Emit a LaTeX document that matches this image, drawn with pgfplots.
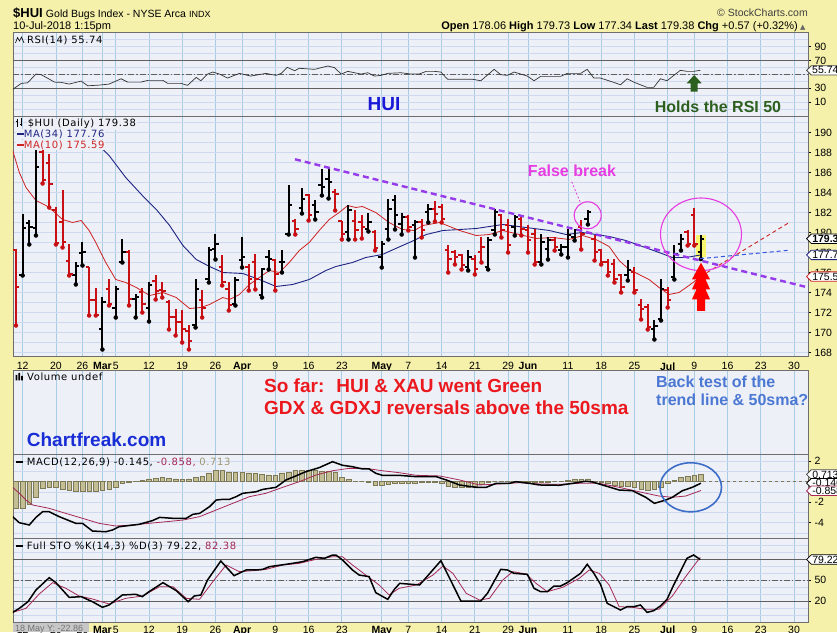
\documentclass[border=0pt]{standalone}
\usepackage{fontspec}
\setmainfont{DejaVu Sans}
\newfontfamily\arial{Liberation Sans}
\newfontfamily\lbl[LetterSpace=6]{DejaVu Sans}
\usepackage{pgfplots}
\usepackage{pgfplotstable}
\pgfplotsset{compat=1.18}
\usetikzlibrary{shapes.symbols}

\definecolor{ybg}{RGB}{245,241,170}
\definecolor{pbg}{RGB}{238,240,248}
\definecolor{vgrid}{RGB}{168,204,228}
\definecolor{hgrid}{RGB}{206,216,238}
\definecolor{framec}{RGB}{110,110,110}
\definecolor{barred}{RGB}{200,15,20}
\definecolor{ma34}{RGB}{30,35,130}
\definecolor{ma10}{RGB}{205,35,35}
\definecolor{trend}{RGB}{150,60,235}
\definecolor{mag}{RGB}{230,60,225}
\definecolor{huiblue}{RGB}{25,25,215}
\definecolor{dgreen}{RGB}{45,95,30}
\definecolor{sored}{RGB}{235,25,30}
\definecolor{btblue}{RGB}{75,120,210}
\definecolor{cfblue}{RGB}{25,45,215}
\definecolor{khaki}{RGB}{196,190,148}
\definecolor{khakid}{RGB}{125,120,85}
\definecolor{sig}{RGB}{165,40,85}
\definecolor{circblue}{RGB}{60,110,200}
\definecolor{hl}{RGB}{250,245,110}
\definecolor{refl}{RGB}{95,95,95}

\newcommand{\fs}[1]{\fontsize{#1}{#1}\selectfont}

\pgfdeclareplotmark{otick}{\pgfpathmoveto{\pgfqpoint{-3.4pt}{0pt}}\pgfpathlineto{\pgfqpoint{0pt}{0pt}}\pgfusepathqstroke}
\pgfdeclareplotmark{ctick}{\pgfpathmoveto{\pgfqpoint{0pt}{0pt}}\pgfpathlineto{\pgfqpoint{3.4pt}{0pt}}\pgfusepathqstroke}

% daily bars: index (0 = 12 Feb 2018, trading days), open, high, low, close
\pgfplotstableread{
i O H L C
0 175.7 181.8 175.7 180.4
1 180.9 181.2 178.8 180.5
2 180.4 188.2 179.7 186.5
8 175.7 177.0 174.8 176.6
9 177.9 179.0 176.7 178.0
12 170.3 173.5 168.3 173.0
14 172.4 174.6 171.5 174.3
15 177.0 179.3 177.0 178.0
17 173.3 173.8 171.5 173.5
19 172.4 175.0 171.1 174.7
26 170.7 175.3 170.5 174.3
28 175.3 178.5 175.0 178.2
29 178.3 179.8 177.3 178.8
32 172.8 175.5 172.7 175.2
33 177.2 179.5 176.5 177.5
36 173.7 176.4 173.5 176.3
37 177.5 178.2 176.3 177.3
39 177.0 178.2 176.0 177.0
40 179.8 184.7 179.8 182.7
42 182.4 184.4 181.9 183.3
44 182.7 183.2 181.3 182.0
45 184.7 186.3 183.7 184.5
46 185.3 186.5 183.4 185.0
49 180.0 182.7 179.3 182.2
52 180.3 181.9 180.1 181.0
54 177.5 179.1 176.5 178.8
55 180.3 183.3 179.3 182.3
56 183.2 183.7 180.3 181.7
57 180.8 181.9 179.8 181.5
59 180.7 181.2 177.5 181.0
61 182.0 182.8 181.0 182.3
67 176.5 178.2 176.2 177.5
70 176.5 179.5 176.3 179.2
71 180.2 182.3 179.8 182.0
74 180.5 181.7 179.7 181.5
78 177.0 179.8 176.8 179.0
79 178.3 179.5 177.3 179.2
81 178.2 178.8 177.8 178.5
82 178.5 180.3 177.5 179.7
83 179.5 180.3 179.2 180.2
85 181.3 182.2 180.8 182.0
91 175.7 177.2 175.2 176.2
95 170.3 171.2 169.3 170.6
96 171.3 175.3 171.2 174.3
98 175.5 178.7 175.3 177.8
99 178.8 179.8 178.2 179.3
102 178.06 179.73 177.34 179.38
}\upbars

\pgfplotstableread{
i O H L C
-1 178.2 178.3 170.7 174.5
3 188.0 188.3 184.9 185.2
4 186.9 187.8 182.5 184.8
5 182.2 182.5 178.8 178.9
6 181.0 184.2 178.5 179.0
7 177.1 178.8 175.7 175.8
10 176.5 176.5 171.7 173.2
11 173.2 174.4 171.7 171.7
13 174.3 175.3 172.7 172.8
16 178.0 178.2 172.7 173.3
18 174.0 174.4 172.0 172.8
20 175.1 175.7 173.3 174.1
21 174.2 175.0 173.5 174.1
22 173.0 173.2 170.3 171.5
23 171.5 172.3 169.7 171.0
24 171.0 172.2 169.0 170.3
25 170.1 170.7 168.3 169.1
27 173.2 174.2 171.5 172.4
30 176.5 177.7 174.7 175.0
31 174.3 175.0 172.2 172.7
34 176.5 176.8 174.2 175.3
35 177.0 177.8 174.3 175.3
38 177.2 177.3 174.2 175.8
41 181.1 181.3 179.8 180.3
43 183.7 183.8 181.2 181.7
47 184.0 184.3 182.2 183.8
48 181.1 181.1 179.3 179.8
50 181.1 182.2 179.3 180.2
51 181.0 181.7 179.4 180.5
53 180.0 180.2 178.2 178.4
58 181.5 181.7 180.2 180.5
60 181.0 181.3 179.5 180.2
62 182.3 183.1 181.1 181.8
63 182.5 182.8 181.0 181.3
64 178.2 178.7 176.0 177.3
65 178.0 178.2 176.8 177.5
66 177.7 177.8 176.3 176.7
68 177.3 177.7 175.8 176.3
69 178.0 179.5 177.0 178.5
72 181.7 181.8 179.5 180.2
73 180.7 181.3 178.0 178.7
75 181.3 181.7 179.7 180.3
76 180.2 180.7 178.0 179.2
77 179.8 180.3 176.8 177.0
80 179.2 179.5 178.2 178.5
84 180.5 181.2 178.3 179.8
86 179.3 179.7 177.2 178.0
87 178.2 178.3 176.8 177.0
88 177.0 177.3 175.7 176.0
89 176.8 177.3 175.0 175.3
90 175.7 175.8 174.0 174.5
92 176.0 176.5 174.0 174.2
93 172.7 173.3 171.3 172.3
94 172.5 172.8 170.3 170.5
97 174.2 174.5 172.5 173.2
100 180.0 180.2 178.7 178.8
101 181.7 182.4 178.7 178.81
}\dnbars

\pgfplotstableread{
i h
-1 -2.6
0 -2.6
1 -2.2
2 -1.5
3 -0.65
4 -0.55
5 -0.55
6 -0.75
7 -0.88
8 -0.98
9 -0.98
10 -0.98
11 -0.98
12 -0.88
13 -0.75
14 -0.5
15 -0.15
16 -0.1
17 0.02
18 0.15
19 0.28
20 0.33
21 0.4
22 0.33
23 0.28
24 0.2
25 0.28
26 0.45
27 0.5
28 0.85
29 1.1
30 1.1
31 0.95
32 0.9
33 0.9
34 0.85
35 0.78
36 0.7
37 0.65
38 0.65
39 0.85
40 0.95
41 1.1
42 1.1
43 1.1
44 1.1
45 1.0
46 1.0
47 0.9
48 0.4
49 0.2
50 0.05
51 0.0
52 -0.02
53 -0.3
54 -0.3
55 -0.25
56 -0.2
57 -0.2
58 -0.2
59 -0.2
60 -0.1
61 -0.05
62 -0.05
63 -0.2
64 -0.45
65 -0.5
66 -0.5
67 -0.5
68 -0.45
69 -0.25
70 -0.05
71 0.0
72 0.05
73 0.0
74 0.05
75 0.0
76 -0.05
77 -0.05
78 -0.05
79 -0.05
80 0.0
81 0.05
82 0.12
83 0.2
84 0.2
85 0.28
86 0.05
87 -0.05
88 -0.2
89 -0.3
90 -0.45
91 -0.45
92 -0.55
93 -0.7
94 -0.8
95 -0.75
96 -0.55
97 -0.2
98 0.1
99 0.42
100 0.52
101 0.62
102 0.713
}\hist

\pgfplotsset{
  panel/.style={
    scale only axis, width=795pt, anchor=north west,
    xmin=-1.45, xmax=118.1,
    axis background/.style={fill=pbg},
    axis line style={draw=framec, line width=0.9pt},
    xtick={0,5,9,12,14,19,24,29,33,38,43,48,54,58,63,68,73,76,82,87,92,97,101,106,111,116},
    xticklabels={},
    xmajorgrids, x grid style={draw=vgrid, line width=0.7pt},
    y grid style={draw=hgrid, line width=0.5pt},
    xtick style={draw=none},
    ytick pos=right, yticklabel pos=right,
    tick align=outside, major tick length=3pt, minor tick length=0pt,
    ytick style={draw=black, line width=0.5pt},
    yticklabel style={font=\arial\fs{10.5}, anchor=west},
    /pgf/number format/assume math mode=true,
  },
  dates/.style={
    xticklabels={12,20,26,\textbf{Mar},5,12,19,26,\textbf{Apr},9,16,23,\textbf{May},7,14,21,29,\textbf{Jun},11,18,25,\textbf{Jul},9,16,23,30},
    xticklabel style={font=\arial\fs{10.5}},
  },
}

\begin{document}
\begin{tikzpicture}
\useasboundingbox (0pt,0pt) rectangle (837pt,632pt);
\clip (0pt,0pt) rectangle (837pt,632pt);
\fill[ybg] (0pt,0pt) rectangle (837pt,632pt);

% ---------- RSI ----------
\begin{axis}[panel, at={(13pt,600pt)}, height=84pt, ymin=-10, ymax=111,
  ytick={10,30,70,90}, minor ytick={0,10,...,110}, ymajorgrids, yminorgrids]
\draw[refl, line width=0.9pt] (axis cs:-1.45,30) -- (axis cs:118.1,30);
\draw[refl, line width=0.9pt] (axis cs:-1.45,70) -- (axis cs:118.1,70);
\draw[refl, line width=0.6pt, dash pattern=on 6pt off 2pt on 1.5pt off 2pt] (axis cs:-1.45,50) -- (axis cs:118.1,50);
\addplot[black!80, line width=0.7pt] coordinates {
(-1.5,28.3)(-0.2,37.0)(0.75,37.8)(2.0,50.4)(2.8,49.5)(4.8,38.8)(5.8,38.4)(7.0,36.0)(8.8,40.3)(9.8,33.5)
(11.5,34.5)(13.0,36.0)(14.8,43.6)(15.8,38.8)(17.8,38.8)(18.8,41.3)(21.1,41.3)(21.8,37.0)(23.8,37.0)(24.8,34.1)
(26.1,45.6)(26.8,40.8)(27.8,50.4)(28.6,53.3)(29.6,50.4)(30.8,44.6)(32.6,51.4)(34.3,47.5)(36.6,51.4)(38.1,48.5)
(38.9,51.4)(39.8,60.1)(40.9,55.2)(41.6,58.7)(43.9,57.2)(45.9,62.0)(46.9,59.6)(47.9,50.4)(48.9,54.3)(50.9,50.4)
(51.9,52.3)(52.9,47.5)(53.9,48.5)(54.9,51.4)(56.9,52.3)(58.4,50.4)(59.6,50.4)(60.7,54.3)(61.9,54.3)(62.9,53.3)
(63.9,42.8)(67.7,42.8)(68.9,40.8)(70.9,57.2)(71.9,49.5)(72.9,48.5)(73.9,53.3)(74.9,50.4)(75.9,47.5)(76.9,40.8)
(77.9,47.1)(80.9,47.1)(81.9,51.4)(83.9,51.4)(84.9,57.2)(85.9,44.6)(86.9,44.6)(88.9,38.4)(89.9,35.0)(90.9,43.6)
(91.9,38.8)(93.9,31.2)(94.9,31.2)(95.9,43.6)(96.9,40.8)(98.9,55.8)(99.9,54.3)(100.9,54.3)(101.9,55.74)};
\end{axis}

% ---------- Price ----------
\begin{axis}[panel, dates, at={(13pt,516pt)}, height=240pt, ymin=167.65, ymax=191.65,
  ytick={168,170,...,190}, minor ytick={168,169,...,191}, ymajorgrids, yminorgrids]
\fill[hl] (axis cs:101.3,177.55) rectangle (axis cs:102.7,179.75);
\addplot[ma34, line width=0.9pt] coordinates {
(10.0,189.7)(13.0,187.7)(15.5,185.5)(18.0,183.7)(20.1,182.3)(22.1,180.7)(24.1,178.7)(26.1,177.3)(28.1,176.6)
(30.1,176.0)(33.1,175.9)(35.6,175.3)(38.1,174.6)(40.6,174.8)(43.1,175.3)(45.6,176.2)(47.1,176.6)(49.6,177.0)
(51.6,177.5)(54.1,177.8)(56.1,178.4)(58.5,179.1)(60.7,179.8)(63.2,180.2)(68.2,180.4)(72.2,180.8)(75.7,180.5)
(79.2,180.2)(81.7,179.8)(84.2,180.0)(88.2,179.6)(90.7,179.2)(93.2,178.6)(95.7,178.0)(97.7,177.5)(99.8,177.5)(102,177.76)};
\addplot[ma10, line width=0.8pt] coordinates {
(-1.5,188.2)(-0.5,186.0)(0.5,184.5)(2.0,183.2)(3.5,182.7)(4.5,182.2)(6.0,181.3)(7.5,181.0)(8.8,181.2)(10.0,180.2)
(11.0,179.0)(12.5,177.0)(14.0,175.3)(15.5,175.0)(17.1,174.5)(19.1,173.7)(21.1,174.0)(23.1,173.5)(25.1,172.4)
(26.8,172.5)(28.1,172.8)(30.1,173.5)(31.1,173.3)(32.6,173.8)(34.1,174.8)(35.6,175.5)(37.1,176.2)(38.6,176.0)
(40.1,177.0)(41.6,178.2)(43.1,179.0)(44.6,180.2)(46.1,181.3)(47.6,182.0)(48.9,182.7)(50.1,182.5)(51.1,182.6)
(53.1,182.0)(55.1,181.0)(57.1,180.3)(58.9,180.2)(60.2,180.7)(62.7,181.0)(65.7,180.2)(68.2,179.7)(70.2,179.8)
(72.2,180.2)(74.7,179.8)(77.2,179.4)(79.7,179.5)(82.2,179.3)(84.2,179.7)(86.2,179.3)(88.2,178.6)(89.7,177.2)
(91.2,176.3)(92.7,175.8)(94.2,175.3)(95.7,174.5)(97.2,173.8)(98.7,174.0)(100.2,174.7)(102,175.59)};
% up bars
\addplot[only marks, mark=none, black, error bars/.cd, y dir=plus, y explicit, error mark=none,
  error bar style={line width=2pt, black}] table[x=i, y=L, y error expr=\thisrow{H}-\thisrow{L}] {\upbars};
\addplot[only marks, mark=otick, black, mark options={line width=2pt}] table[x=i, y=O] {\upbars};
\addplot[only marks, mark=ctick, black, mark options={line width=2pt}] table[x=i, y=C] {\upbars};
% down bars
\addplot[only marks, mark=none, barred, error bars/.cd, y dir=plus, y explicit, error mark=none,
  error bar style={line width=2pt, barred}] table[x=i, y=L, y error expr=\thisrow{H}-\thisrow{L}] {\dnbars};
\addplot[only marks, mark=otick, barred, mark options={line width=2pt}] table[x=i, y=O] {\dnbars};
\addplot[only marks, mark=ctick, barred, mark options={line width=2pt}] table[x=i, y=C] {\dnbars};
\end{axis}

% ---------- Volume ----------
\begin{axis}[panel, at={(13pt,262pt)}, height=84pt, ymin=0, ymax=1, ytick=\empty]
\end{axis}

% ---------- MACD ----------
\begin{axis}[panel, at={(13pt,178pt)}, height=84pt, ymin=-5.49, ymax=2.70,
  ytick={-4,-2,2}, yticklabels={-4,-2,2}, minor ytick={-5,-4,...,2}, ymajorgrids, yminorgrids]
\addplot[ybar, bar width=4.6pt, fill=khaki, draw=khakid, line width=0.5pt] table[x=i, y=h] {\hist};
\draw[khakid, line width=0.5pt, dashed] (axis cs:-1.45,0) -- (axis cs:118.1,0);
\addplot[sig, line width=0.8pt] coordinates {
(-1.5,-0.55)(-0.5,-1.13)(0.5,-1.79)(1.5,-2.27)(4.0,-2.60)(6.5,-3.09)(9.0,-3.57)(11.5,-4.06)(14.0,-4.32)(16.5,-4.22)
(19.0,-4.06)(21.6,-3.90)(24.1,-3.74)(26.6,-3.41)(29.1,-2.76)(31.6,-2.11)(34.1,-1.46)(36.6,-1.13)(39.1,-0.55)(41.6,0)
(44.1,0.65)(46.6,1.07)(49.1,1.30)(51.6,1.30)(54.1,1.07)(56.6,0.88)(59.2,0.62)(62.7,0.56)(65.7,0.17)(68.7,-0.32)
(71.7,-0.22)(74.7,-0.10)(77.7,-0.22)(80.7,-0.26)(83.7,-0.16)(86.7,-0.16)(89.7,-0.55)(92.7,-0.98)(95.7,-1.40)
(97.7,-1.52)(99.7,-1.40)(102,-0.858)};
\addplot[black, line width=1.5pt] coordinates {
(-1.5,-3.41)(-0.5,-4.0)(1.0,-4.22)(2.0,-3.48)(3.0,-2.93)(4.0,-2.93)(5.5,-3.41)(8.0,-4.06)(9.0,-4.06)(10.5,-4.81)
(12.5,-4.88)(13.5,-4.71)(14.5,-4.39)(17.5,-4.16)(19.5,-3.80)(20.6,-3.48)(22.6,-3.57)(24.6,-3.57)(25.6,-3.18)
(26.6,-3.09)(28.1,-2.44)(29.1,-1.79)(30.1,-1.72)(31.1,-1.72)(32.1,-1.46)(33.1,-1.13)(35.1,-0.98)(36.1,-0.75)
(38.1,-0.55)(39.6,0.17)(40.6,0.43)(42.6,0.98)(44.6,1.37)(46.6,1.95)(48.1,1.60)(49.6,1.46)(51.1,1.24)(52.1,1.24)
(53.1,0.82)(54.1,0.62)(56.6,0.62)(59.2,0.49)(62.2,0.49)(63.7,0.17)(65.7,-0.32)(68.2,-0.55)(69.7,-0.55)(71.2,-0.16)
(73.2,-0.16)(74.2,0)(76.2,-0.16)(77.7,-0.32)(80.7,-0.35)(82.7,-0.16)(84.7,0.04)(85.7,-0.03)(87.7,-0.42)(89.7,-0.81)
(91.7,-0.88)(93.7,-1.52)(95.0,-2.11)(96.7,-1.79)(97.7,-1.52)(99.2,-0.88)(100.7,-0.55)(102,-0.145)};
\end{axis}

% ---------- Full STO ----------
\begin{axis}[panel, dates, at={(13pt,94pt)}, height=84pt, ymin=-10, ymax=110,
  xticklabel style={yshift=2.5pt},
  ytick={20,50,80}, yticklabels={20,50,{}}, minor ytick={0,10,...,100}, ymajorgrids, yminorgrids]
\draw[refl, line width=0.9pt] (axis cs:-1.45,20) -- (axis cs:118.1,20);
\draw[refl, line width=0.9pt] (axis cs:-1.45,80) -- (axis cs:118.1,80);
\draw[refl, line width=0.6pt, dash pattern=on 6pt off 2pt on 1.5pt off 2pt] (axis cs:-1.45,50) -- (axis cs:118.1,50);
\addplot[sig, line width=0.8pt] coordinates {
(-1.5,3.8)(0.5,9.5)(2.5,30)(4.5,46.2)(6.5,38.1)(8.5,27.1)(10.5,22.9)(13.0,15.7)(15.5,23.8)(18.0,27.1)(20.6,40.5)
(22.6,40.5)(24.6,23.8)(26.6,22.4)(28.6,47.6)(30.6,71.4)(32.6,61.9)(34.6,63.3)(36.6,65.2)(39.1,71.4)(41.6,73.8)
(44.1,79.5)(46.6,83.3)(48.1,83.3)(49.6,71.4)(51.6,57.1)(53.6,42.9)(55.1,28.6)(56.6,38.1)(59.2,42.9)(61.7,57.1)
(63.2,70)(64.7,59.5)(66.7,31)(68.7,21.4)(70.2,23.8)(72.2,50)(73.7,61.9)(75.7,58.6)(77.2,45.2)(78.9,33.3)(81.2,39.5)
(83.7,52.4)(85.2,64.3)(86.7,59.5)(88.2,42.9)(89.7,11.9)(91.7,11)(93.7,8.1)(95.7,8.1)(97.7,27.1)(99.7,54.8)(101.9,82.38)};
\addplot[black, line width=1.5pt] coordinates {
(-1.5,3.8)(-0.5,9.5)(0.8,19)(2.0,35.7)(4.0,53.3)(5.0,46.2)(7.0,25.2)(8.8,26.2)(10.5,19)(12.0,11)(13.0,14.3)(15.0,28.6)
(17.0,29.6)(18.0,26.2)(19.0,33.3)(21.1,46.2)(23.1,34.8)(24.9,19)(25.8,27.1)(26.8,28.6)(27.8,50)(29.8,77.1)(31.8,56.2)
(33.6,64.3)(35.1,64.3)(36.1,65.2)(37.1,69)(40.6,73.8)(42.1,76.2)(44.1,82.4)(45.4,81)(46.6,85.7)(47.1,85.7)(48.1,78.6)
(49.6,64.3)(50.6,57.1)(52.1,54.8)(53.1,31.9)(54.9,22.4)(55.9,36.7)(56.7,45.2)(59.7,42.9)(62.9,77.6)(65.9,20)(68.9,20)
(69.9,31)(71.9,65.2)(72.9,64.3)(73.9,59.5)(75.9,58.1)(76.9,38.1)(77.9,33.3)(78.9,33.3)(79.9,41.4)(80.9,41.4)(81.9,46.2)
(83.9,59.5)(84.9,72.4)(85.9,59.5)(86.9,43.8)(87.9,16.7)(89.9,7.1)(90.9,11.9)(91.9,11.9)(92.9,14.3)(93.9,3.8)(94.9,6.2)
(95.9,12.9)(96.9,22.4)(97.9,42.9)(98.9,61.9)(99.9,81)(100.9,85.7)(101.9,79.22)};
\end{axis}

\begin{scope}[x=1pt,y=1pt]
% ---------- header ----------
\node[anchor=base west, inner sep=0] at (13,614.7) {{\arial\bfseries\fs{13}\$HUI} {\arial\fs{10.5}Gold Bugs Index - NYSE Arca} {\arial\fs{9}INDX}};
\node[anchor=base west, inner sep=0] at (13,602.3) {\arial\fs{11}10-Jul-2018 1:15pm};
\node[anchor=base east, inner sep=0, text=black!75] at (808,615) {\arial\fs{10.5}\textcopyright\ StockCharts.com};
\node[anchor=base east, inner sep=0] at (798,602) {\arial\fs{11}\textbf{Open} 178.06 \textbf{High} 179.73 \textbf{Low} 177.34 \textbf{Last} 179.38 \textbf{Chg} +0.57 (+0.32\%)};
\node[anchor=base west, inner sep=0, text=black!60] at (800,602.5) {\fs{7}▲};

% ---------- panel labels ----------
\draw[black, line width=0.6pt] (15.5,589) -- (17.5,594.5) -- (19.5,591) -- (21.5,595) -- (24,589);
\node[anchor=base west, inner sep=0] at (27,588.7) {\lbl\fs{10}RSI(14) 55.74};

\draw[black, line width=0.8pt] (17,505)--(17,513) (16,511)--(17,511) (17,507)--(18,507) (21,506)--(21,514) (20,508)--(21,508) (21,512)--(22,512);
\node[anchor=base west, inner sep=0.6pt, fill=pbg] at (27,505) {\lbl\fs{10}\$HUI (Daily) 179.38};
\node[anchor=base west, inner sep=0.6pt, fill=pbg, text=ma34] at (16,494.5) {\lbl\fs{10}\rule[2.8pt]{7pt}{1.6pt}MA(34) 177.76};
\node[anchor=base west, inner sep=0.6pt, fill=pbg, text=ma10] at (16,483.5) {\lbl\fs{10}\rule[2.8pt]{7pt}{1.6pt}MA(10) 175.59};

\fill[black] (15.5,251.5) rectangle (17.3,257) (18.3,251.5) rectangle (20.1,259) (21.1,251.5) rectangle (22.9,256);
\node[anchor=base west, inner sep=0] at (27,251.5) {\lbl\fs{10}Volume undef};

\node[anchor=base west, inner sep=0] at (16,166.7) {\lbl\fs{10}\rule[2.8pt]{7pt}{1.6pt} MACD(12,26,9) -0.145, \textcolor{sig}{-0.858,} \textcolor{khaki!80!black}{0.713}};
\node[anchor=base west, inner sep=0] at (16,82.5) {\lbl\fs{10}\rule[2.8pt]{7pt}{1.6pt} Full STO \%K(14,3) \%D(3) 79.22, \textcolor{sig}{82.38}};

% ---------- value tags ----------
\tikzset{tag/.style={signal, signal to=west, draw=#1, fill=white, line width=0.8pt, inner sep=1pt, anchor=west, font=\arial\fs{10.5}}}
\node[tag=black!70] at (806,561.6) {55.74};
\node[tag=black] at (806,393.3) {\textbf{179.38}};
\node[tag=ma34] at (806,377.1) {177.76};
\node[tag=ma10] at (806,355.4) {175.59};
\node[tag=black!70] at (806,157.6) {0.713};
\node[tag=black] at (806,148.8) {-0.146};
\node[tag=sig] at (806,141.2) {-0.858};
\node[tag=black] at (806,72.5) {79.22};

% ---------- annotations ----------
\node[text=huiblue, inner sep=0] at (384,528) {\arial\bfseries\fs{19}HUI};
\node[text=dgreen, inner sep=0] at (718,525.3) {\arial\bfseries\fs{16}Holds the RSI 50};
\fill[dgreen] (694.2,557) -- (701.7,548.7) -- (697.7,548.7) -- (697.7,540.3) -- (690.7,540.3) -- (690.7,548.7) -- (686.7,548.7) -- cycle;

\draw[trend, line width=2.4pt, dash pattern=on 6pt off 4pt] (295,472.7) -- (805,345.3);
\draw[btblue!70!blue, line width=1pt, dash pattern=on 4pt off 3pt] (700,373.3) -- (788.3,381.7);
\draw[ma10, line width=0.9pt, dash pattern=on 4pt off 3pt] (706.7,359.3) -- (790,410);

\node[text=mag, inner sep=0] at (572,461) {\arial\bfseries\fs{16}False break};
\draw[mag, line width=0.8pt, dash pattern=on 2pt off 2pt] (571.7,450.3) -- (580,430.3);
\draw[mag, line width=1.1pt] (587.7,416.7) circle[radius=13.5];
\draw[mag, line width=1.1pt] (701,397.7) ellipse[x radius=40.5, y radius=36.3];

\fill[red] (701,369.3) -- (710,352.7) -- (705.5,352.7) -- (710,342.7) -- (705.5,342.7) -- (710,332.7) -- (705,332.7) -- (705,321)
  -- (697,321) -- (697,332.7) -- (692,332.7) -- (696.5,342.7) -- (692,342.7) -- (696.5,352.7) -- (692,352.7) -- cycle;

\node[anchor=west, text=sored, inner sep=0] at (264,246) {\arial\bfseries\fs{19}So far:\hspace{12pt}HUI \& XAU went Green};
\node[anchor=west, text=sored, inner sep=0] at (264,224) {\arial\bfseries\fs{19}GDX \& GDXJ reversals above the 50sma};
\node[anchor=west, text=btblue, inner sep=0] at (656,250.3) {\arial\bfseries\fs{16}Back test of the};
\node[anchor=west, text=btblue, inner sep=0] at (656,232) {\arial\bfseries\fs{16}trend line \& 50sma?};
\node[anchor=west, text=cfblue, inner sep=0] at (26.7,192) {\arial\bfseries\fs{19}Chartfreak.com};

\draw[circblue, line width=1.6pt] (690.7,144.7) ellipse[x radius=30.8, y radius=24.5];

% ---------- bottom status box ----------
\fill[black!22] (13,0) rectangle (89,9.5);
\node[anchor=base west, inner sep=0, text=black!55] at (15,1) {\arial\fs{9}18 May Y: -22.86};
\end{scope}
\end{tikzpicture}
\end{document}
